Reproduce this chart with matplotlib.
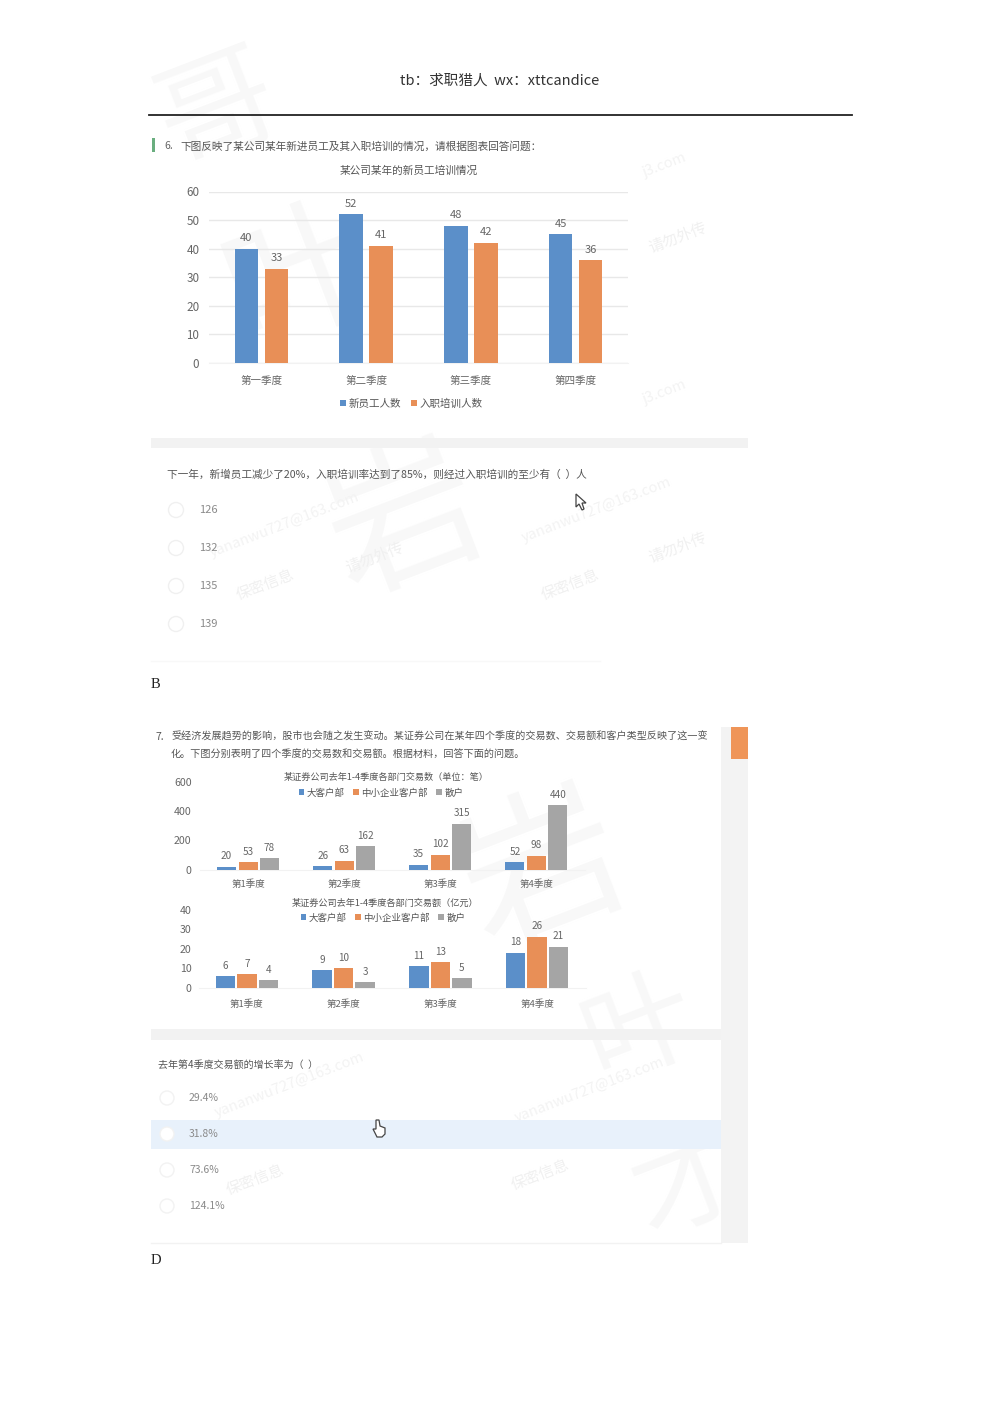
import matplotlib
matplotlib.use("Agg")
import matplotlib.pyplot as plt
from matplotlib.patches import Circle, Polygon, Rectangle

plt.rcParams["font.family"] = ["Noto Sans CJK SC", "DejaVu Sans"]

W, H = 1000, 1415
BLUE = "#5b8fc9"
ORANGE = "#e88f57"
GRAY = "#a5a5a5"

# chart 1
quarters_cn = ["第一季度", "第二季度", "第三季度", "第四季度"]
new_staff = [40, 52, 48, 45]
trained = [33, 41, 42, 36]
ticks_1 = [0, 10, 20, 30, 40, 50, 60]

# charts 2 and 3
quarters_num = ["第1季度", "第2季度", "第3季度", "第4季度"]
dept_names = ["大客户部", "中小企业客户部", "散户"]
count_big = [20, 26, 35, 52]
count_small = [53, 63, 102, 98]
count_retail = [78, 162, 315, 440]
ticks_2 = [0, 200, 400, 600]
amount_big = [6, 9, 11, 18]
amount_small = [7, 10, 13, 26]
amount_retail = [4, 3, 5, 21]
ticks_3 = [0, 10, 20, 30, 40]

options_1 = ["126", "132", "135", "139"]
options_2 = ["29.4%", "31.8%", "73.6%", "124.1%"]

fig = plt.figure(figsize=(W / 100, H / 100), dpi=100, facecolor="white")

# page layer in pixel coordinates
bg = fig.add_axes([0, 0, 1, 1], zorder=0)
bg.set_xlim(0, W)
bg.set_ylim(H, 0)
bg.axis("off")


def px_text(x, y, s, size=7.5, color="#555555", ha="left", **kw):
    bg.text(x, y, s, fontsize=size, color=color, ha=ha, va="center", **kw)


def box(x0, y0, x1, y1, color):
    bg.add_patch(Rectangle((x0, y0), x1 - x0, y1 - y0, color=color, lw=0, zorder=1))


def mark(x, y, s, size, color):
    bg.text(x, y, s, fontsize=size, color=color, ha="center", va="center", rotation=21, zorder=0.5)


# watermarks
for x, y, s, size in [(218, 112, "哥", 85), (300, 280, "叶", 105), (405, 525, "岩", 110),
                      (545, 875, "岩", 115), (640, 1030, "叶", 80), (690, 1185, "才", 80)]:
    mark(x, y, s, size, "#f8f8f8")
for x, y in [(285, 525), (597, 510), (290, 1085), (590, 1090)]:
    mark(x, y, "yananwu727@163.com", 10.5, "#f3f3f3")
for x, y in [(265, 585), (570, 585), (255, 1180), (540, 1175)]:
    mark(x, y, "保密信息", 11, "#f0f0f0")
for x, y in [(375, 558), (678, 548), (678, 238)]:
    mark(x, y, "请勿外传", 11, "#f0f0f0")
for x, y in [(665, 165), (665, 392)]:
    mark(x, y, "j3.com", 10.5, "#f3f3f3")

# header
px_text(500, 81, "tb：求职猎人  wx：xttcandice", size=10.5, color="#333333", ha="center")
bg.plot([149, 852], [114.5, 114.5], color="#222222", lw=1.3)

# question 6
box(152, 138, 155, 152, "#6aae7f")
px_text(164, 146, "6.", color="#666666")
px_text(180, 146, "下图反映了某公司某年新进员工及其入职培训的情况，请根据图表回答问题：", size=7.7)
px_text(409, 171, "某公司某年的新员工培训情况", size=7.7, ha="center")
box(151, 438, 748, 448, "#f2f2f2")
px_text(167, 474.5, "下一年，新增员工减少了20%，入职培训率达到了85%，则经过入职培训的至少有（  ）人", size=7.68)
for y, opt in zip([510, 548, 586, 624], options_1):
    bg.add_patch(Circle((176, y), 7.5, fc="white", ec="#f0f0f0", lw=1, zorder=2))
    px_text(199, y, opt, size=8, color="#8a8a8a")
bg.plot([151, 600], [661, 661], color="#f8f8f8", lw=1)
px_text(151, 685, "B", size=10.5, color="#222222", family="Liberation Serif")

# question 7
box(721, 727, 748, 1243, "#f3f3f3")
box(731, 727, 748, 759, "#ef9558")
px_text(155, 737, "7.", color="#555555")
px_text(171, 737, "受经济发展趋势的影响，股市也会随之发生变动。某证券公司在某年四个季度的交易数、交易额和客户类型反映了这一变", size=7.26)
px_text(171, 755, "化。下图分别表明了四个季度的交易数和交易额。根据材料，回答下面的问题。", size=7.26)
px_text(386, 777, "某证券公司去年1-4季度各部门交易数（单位：笔）", size=6.6, ha="center")
px_text(385, 903, "某证券公司去年1-4季度各部门交易额（亿元）", size=6.6, ha="center")
box(151, 1029, 721, 1040, "#f2f2f2")
px_text(158, 1064.5, "去年第4季度交易额的增长率为（  ）", size=7.2)
box(151, 1120, 721, 1149, "#e8f1fb")
for y, opt in zip([1098, 1134, 1170, 1206], options_2):
    bg.add_patch(Circle((167, y), 7, fc="white", ec="#f2f2f2", lw=1, zorder=2))
    px_text(189, y, opt, size=7.5, color="#8a8a8a")
bg.plot([151, 721], [1243, 1243], color="#f2f2f2", lw=1)
px_text(151, 1261, "D", size=10.5, color="#222222", family="Liberation Serif")

# cursors
bg.add_patch(Polygon([(576, 494), (576, 507), (579, 504), (582, 510), (584, 509), (582, 503), (586, 503)],
                     fc="white", ec="#444444", lw=0.9, zorder=5))
bg.add_patch(Polygon([(376, 1120), (379, 1120), (380, 1126), (385, 1128), (385, 1134), (382, 1137),
                      (377, 1137), (373, 1129), (376, 1129)],
                     fc="white", ec="#444444", lw=0.9, zorder=5))


def bar_axes(left, right, y_bottom, y_top):
    return fig.add_axes([left / W, 1 - y_bottom / H, (right - left) / W, (y_bottom - y_top) / H],
                        zorder=1, facecolor="none")


def draw_chart(ax, series, colors, names, cats, ticks, ymax, width, step, labsize, tickpad, catpad, legend_y):
    xs = range(len(cats))
    n = len(series)
    for i, (vals, col, name) in enumerate(zip(series, colors, names)):
        pos = [x + (i - (n - 1) / 2) * step for x in xs]
        bars = ax.bar(pos, vals, width=width, color=col, label=name, zorder=3)
        ax.bar_label(bars, padding=4, fontsize=labsize, color="#666666")
    ax.set_xlim(-0.5, len(cats) - 0.5)
    ax.set_ylim(0, ymax)
    ax.set_xticks(list(xs), cats)
    ax.set_yticks(ticks)
    ax.tick_params(axis="both", length=0, colors="#666666")
    ax.tick_params(axis="x", labelsize=labsize - 0.4, pad=catpad)
    ax.tick_params(axis="y", labelsize=labsize + 0.4, pad=tickpad)
    for s in ["top", "right", "left"]:
        ax.spines[s].set_visible(False)
    ax.spines["bottom"].set_color("#f2f2f2")
    fig.legend(*ax.get_legend_handles_labels(), loc="center", bbox_to_anchor=legend_y, ncol=n, frameon=False,
               fontsize=labsize - 0.4, labelcolor="#555555", handlelength=0.6, handleheight=0.6,
               handletextpad=0.25, columnspacing=0.9, borderpad=0)


ax1 = bar_axes(209, 628, 363, 191.5)
draw_chart(ax1, [new_staff, trained], [BLUE, ORANGE], ["新员工人数", "入职培训人数"], quarters_cn,
           ticks_1, 60, 0.225, 0.286, 8, 7, 9, (411 / W, 1 - 403.5 / H))
ax1.grid(axis="y", color="#e8e8e8", lw=1, zorder=0)
ax1.set_axisbelow(True)

ax2 = bar_axes(200, 584.5, 870, 781.5)
draw_chart(ax2, [count_big, count_small, count_retail], [BLUE, ORANGE, GRAY], dept_names, quarters_num,
           ticks_2, 600, 0.198, 0.224, 7.2, 6, 7, (381 / W, 1 - 793 / H))

ax3 = bar_axes(198.5, 585.5, 988, 909.5)
draw_chart(ax3, [amount_big, amount_small, amount_retail], [BLUE, ORANGE, GRAY], dept_names, quarters_num,
           ticks_3, 40, 0.2, 0.222, 7.2, 5, 8, (383 / W, 1 - 918 / H))

fig.savefig("out.png", dpi=100)
